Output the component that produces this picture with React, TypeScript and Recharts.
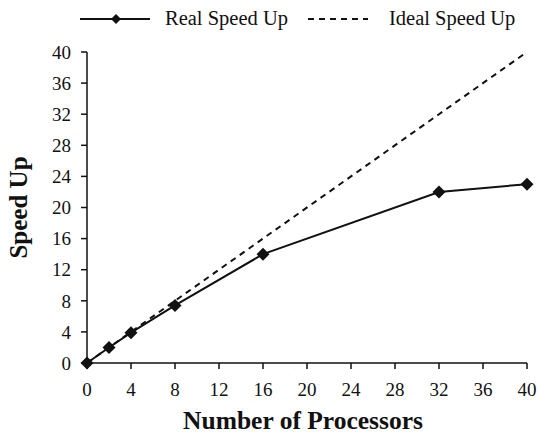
import { LineChart, Line, XAxis, YAxis, Label } from 'recharts';

const processors = [0, 2, 4, 8, 16, 32, 40];
const realSpeedUp = [0, 2, 3.9, 7.4, 14, 22, 23];
const idealSpeedUp = [0, 2, 4, 8, 16, 32, 40];
const xTicks = [0, 4, 8, 12, 16, 20, 24, 28, 32, 36, 40];
const yTicks = [0, 4, 8, 12, 16, 20, 24, 28, 32, 36, 40];

const FONT = '"Liberation Serif", "Times New Roman", serif';
const INK = '#111';

const data = processors.map((p, i) => ({
    processors: p,
    real: realSpeedUp[i],
    ideal: idealSpeedUp[i],
}));

function Diamond(props: any) {
    const { cx, cy } = props;
    if (cx == null || cy == null) return null;
    const r = 6.5;
    return (
        <polygon
            points={`${cx},${cy - r} ${cx + r},${cy} ${cx},${cy + r} ${cx - r},${cy}`}
            fill={INK}
            stroke="none"
        />
    );
}

function ChartLegend() {
    return (
        <div
            style={{
                position: 'absolute',
                left: 80,
                top: 7,
                display: 'flex',
                alignItems: 'center',
                fontFamily: FONT,
                fontSize: 20.5,
                color: INK,
                whiteSpace: 'nowrap',
            }}
        >
            <svg width={70} height={16}>
                <line x1={0} y1={8} x2={70} y2={8} stroke={INK} strokeWidth={2} />
                <polygon points="36,3 41,8 36,13 31,8" fill={INK} />
            </svg>
            <span style={{ marginLeft: 15 }}>Real Speed Up</span>
            <svg width={60} height={16} style={{ marginLeft: 20 }}>
                <line x1={0} y1={8} x2={60} y2={8} stroke={INK} strokeWidth={2} strokeDasharray="6 5" />
            </svg>
            <span style={{ marginLeft: 21 }}>Ideal Speed Up</span>
        </div>
    );
}

export default function App() {
    const tickStyle = { fontFamily: FONT, fontSize: 19, fill: INK };
    return (
        <div style={{ position: 'absolute', left: 0, top: 0, width: 538, height: 436, background: '#fff' }}>
            <LineChart
                width={538}
                height={436}
                data={data}
                margin={{ top: 52, right: 11, bottom: 0, left: 0 }}
            >
                <XAxis
                    dataKey="processors"
                    type="number"
                    domain={[0, 40]}
                    ticks={xTicks}
                    height={73}
                    tick={tickStyle}
                    tickSize={6}
                    tickMargin={14}
                    stroke={INK}
                    strokeWidth={1.5}
                >
                    <Label
                        content={({ viewBox }: any) => (
                            <text
                                x={viewBox.x + viewBox.width / 2 - 4}
                                y={viewBox.y + 66}
                                textAnchor="middle"
                                fontFamily={FONT}
                                fontSize={25.5}
                                fontWeight="bold"
                                fill={INK}
                            >
                                Number of Processors
                            </text>
                        )}
                    />
                </XAxis>
                <YAxis
                    type="number"
                    domain={[0, 40]}
                    ticks={yTicks}
                    width={87}
                    tick={tickStyle}
                    tickSize={6}
                    tickMargin={10}
                    stroke={INK}
                    strokeWidth={1.5}
                >
                    <Label
                        content={({ viewBox }: any) => {
                            const x = viewBox.x + 27;
                            const y = viewBox.y + viewBox.height / 2;
                            return (
                                <text
                                    x={x}
                                    y={y}
                                    transform={`rotate(-90, ${x}, ${y})`}
                                    textAnchor="middle"
                                    fontFamily={FONT}
                                    fontSize={25}
                                    fontWeight="bold"
                                    fill={INK}
                                >
                                    Speed Up
                                </text>
                            );
                        }}
                    />
                </YAxis>
                <Line
                    dataKey="ideal"
                    stroke={INK}
                    strokeWidth={2}
                    strokeDasharray="6 5"
                    dot={false}
                    activeDot={false}
                    isAnimationActive={false}
                />
                <Line
                    dataKey="real"
                    stroke={INK}
                    strokeWidth={2}
                    dot={<Diamond />}
                    activeDot={false}
                    isAnimationActive={false}
                />
            </LineChart>
            <ChartLegend />
        </div>
    );
}
